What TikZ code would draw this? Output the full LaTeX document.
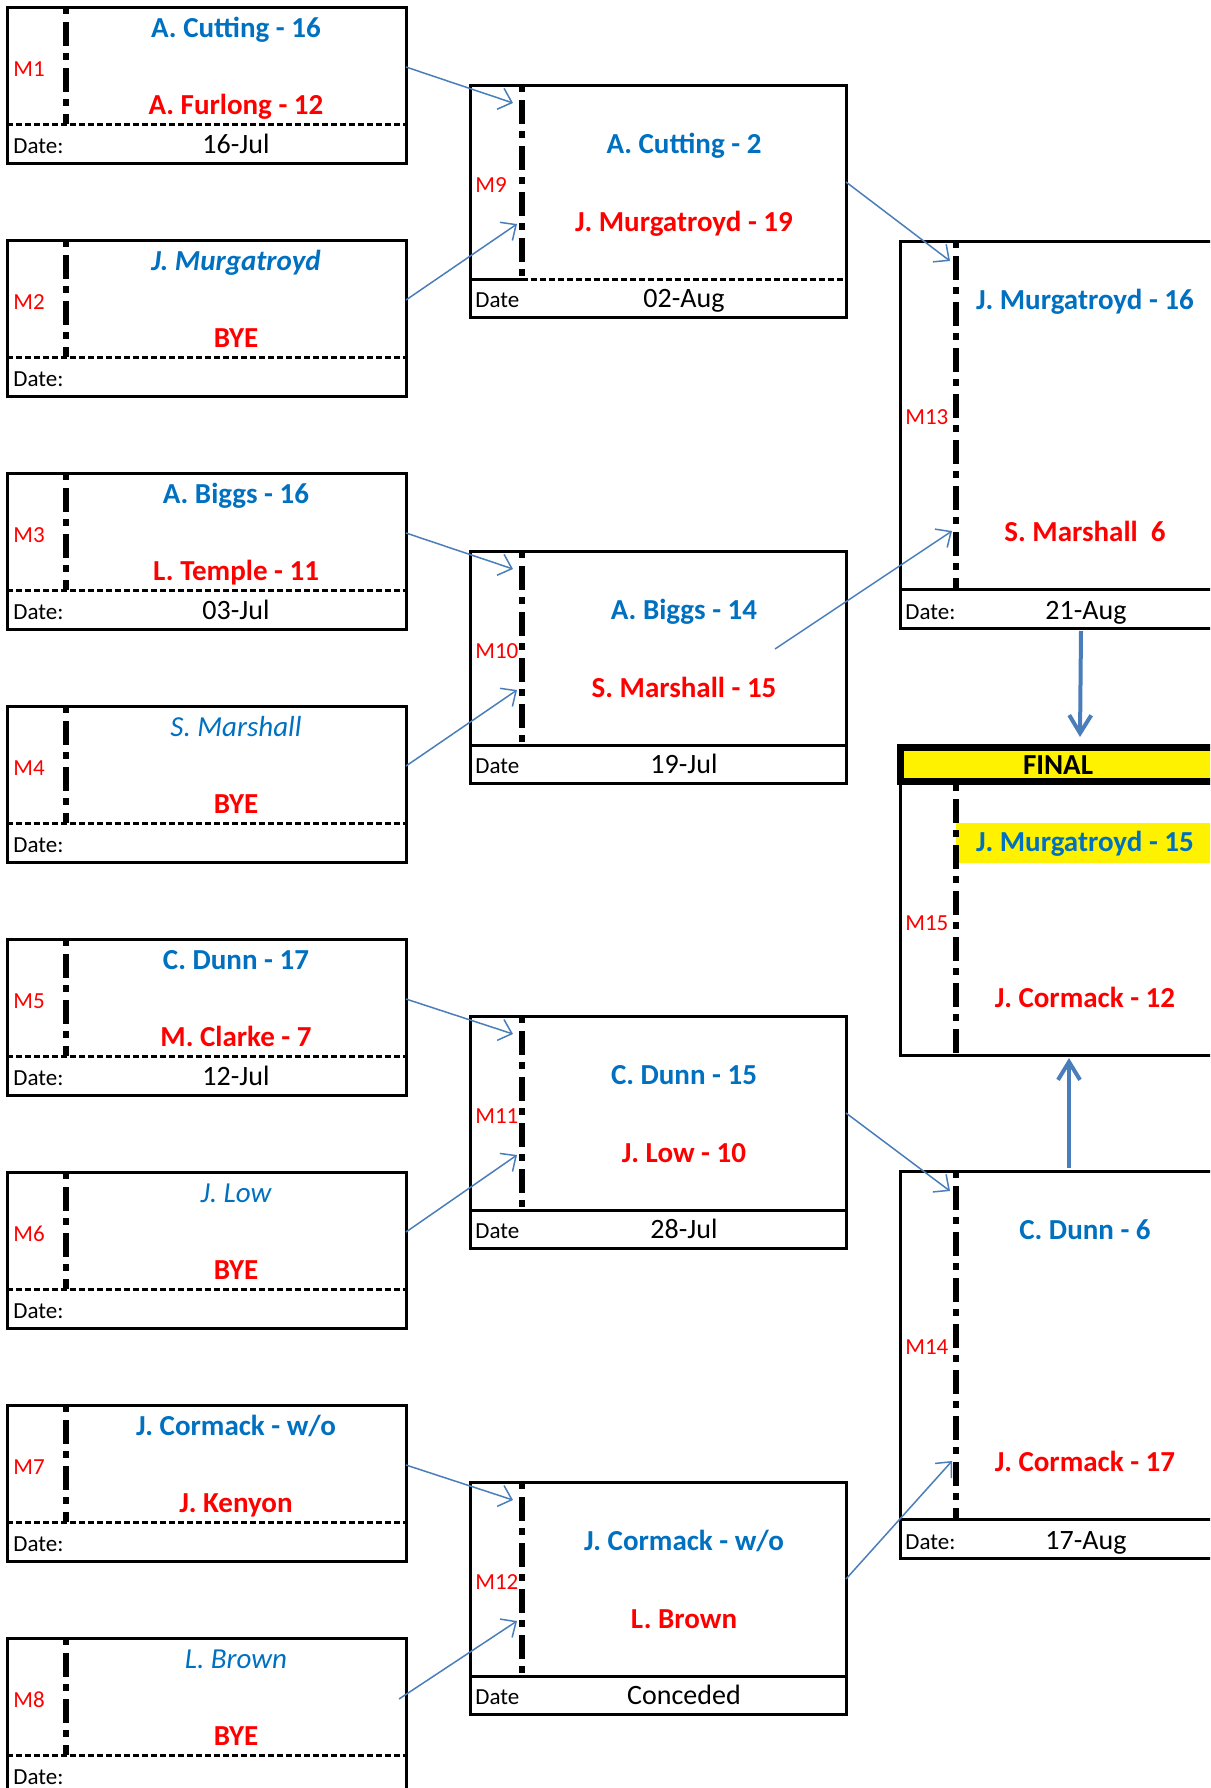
\documentclass[tikz,border=0pt]{standalone}
\usepackage{fontspec}
\setmainfont{Carlito}
\usetikzlibrary{arrows.meta}
\definecolor{nameblue}{HTML}{0070C0}
\definecolor{linkblue}{HTML}{4A7EBB}

\begin{document}
\begin{tikzpicture}[x=0.5pt,y=-0.5pt,
    box/.style={line width=1.5pt},
    sep/.style={line width=1.5pt,dash pattern=on 3pt off 1.5pt},
    mline/.style={line width=3pt,dash pattern=on 3.5pt off 4pt on 12pt off 3.5pt},
    txt/.style={inner sep=0pt,anchor=base},
    winner/.style={txt,text=nameblue,font=\fontsize{14.5}{17}\selectfont\bfseries},
    loser/.style={txt,text=red,font=\fontsize{14.5}{17}\selectfont\bfseries},
    mlab/.style={inner sep=0pt,anchor=base west,text=red,font=\fontsize{11.5}{13}\selectfont},
    datelab/.style={inner sep=0pt,anchor=base west,font=\fontsize{11.5}{13}\selectfont},
    dateval/.style={txt,font=\fontsize{14}{16}\selectfont},
    link/.style={linkblue,line width=0.75pt,-{Straight Barb[length=6pt,width=11pt]}},
    fwd/.style={linkblue,line width=2pt,-{Straight Barb[length=9pt,width=11pt]}}]
  \clip (0,0) rectangle (1210,1788);

  \foreach \i/\yy/\ta/\tb/\dt in {
      1/7/{A. Cutting - 16}/{A. Furlong - 12}/16-Jul,
      2/240/{\itshape J. Murgatroyd}/BYE/{},
      3/473/{A. Biggs - 16}/{L. Temple - 11}/03-Jul,
      4/706/{\mdseries\itshape S. Marshall}/BYE/{},
      5/939/{C. Dunn - 17}/{M. Clarke - 7}/12-Jul,
      6/1172/{\mdseries\itshape J. Low}/BYE/{},
      7/1405/{J. Cormack - w/o}/{J. Kenyon}/{},
      8/1638/{\mdseries\itshape L. Brown}/BYE/{}} {
    \draw[box] (7,\yy) rectangle (406,\yy+156);
    \draw[sep] (7,\yy+117) -- (406,\yy+117);
    \draw[mline] (66,\yy) -- (66,\yy+117);
    \node[mlab] (m\i) at (13,\yy+69) {M\i};
    \node[winner] (m\i-a) at (236,\yy+30) {\ta};
    \node[loser] (m\i-b) at (236,\yy+107) {\tb};
    \node[datelab] (m\i-d) at (13,\yy+146) {Date:};
    \node[dateval] (m\i-v) at (236,\yy+146) {\dt};
    \coordinate (m\i-out) at (406,\yy+60);
  }
  \coordinate (m8-out) at (399,1699);

  \foreach \i/\yy/\ta/\tb/\dt/\sty in {
      9/85/{A. Cutting - 2}/{J. Murgatroyd - 19}/02-Aug/sep,
      10/551/{A. Biggs - 14}/{S. Marshall - 15}/19-Jul/box,
      11/1016/{C. Dunn - 15}/{J. Low - 10}/28-Jul/box,
      12/1482/{J. Cormack - w/o}/{L. Brown}/Conceded/box} {
    \draw[box] (470,\yy) rectangle (846,\yy+232);
    \draw[box] (470,\yy+194) -- (522,\yy+194);
    \draw[\sty] (522,\yy+194) -- (846,\yy+194);
    \draw[mline] (522,\yy) -- (522,\yy+194);
    \node[mlab] (m\i) at (475,\yy+107) {M\i};
    \node[winner] (m\i-a) at (684,\yy+68) {\ta};
    \node[loser] (m\i-b) at (684,\yy+146) {\tb};
    \node[datelab] (m\i-d) at (475,\yy+222) {Date};
    \node[dateval] (m\i-v) at (684,\yy+222) {\dt};
    \coordinate (m\i-in1) at (513,\yy+18);
    \coordinate (m\i-in2) at (517,\yy+139);
    \coordinate (m\i-out) at (846,\yy+97);
  }
  \coordinate (m10-out) at (775,649);

  \foreach \i/\yy/\ta/\tb/\dt in {
      13/241/{J. Murgatroyd - 16}/{S. Marshall\ \ 6}/21-Aug,
      14/1171/{C. Dunn - 6}/{J. Cormack - 17}/17-Aug} {
    \draw[box] (900,\yy) rectangle (1216,\yy+387);
    \draw[box] (900,\yy+348) -- (1216,\yy+348);
    \draw[mline] (956,\yy) -- (956,\yy+348);
    \node[mlab] (m\i) at (905,\yy+183) {M\i};
    \node[winner] (m\i-a) at (1085,\yy+68) {\ta};
    \node[loser] (m\i-b) at (1085,\yy+300) {\tb};
    \node[datelab] (m\i-d) at (905,\yy+378) {Date:};
    \node[dateval] (m\i-v) at (1086,\yy+378) {\dt};
    \coordinate (m\i-in1) at (950,\yy+20);
    \coordinate (m\i-in2) at (952,\yy+290);
  }
  \coordinate (m13-down) at (1081,631);
  \coordinate (m14-up) at (1069,1168);

  \draw[line width=3.5pt,fill=yellow] (900,747) rectangle (1216,781);
  \draw[box] (900,784) -- (900,1055) -- (1216,1055);
  \fill[yellow] (956,823) rectangle (1216,863);
  \draw[mline] (956,784) -- (956,1055);
  \node[txt,font=\fontsize{14.5}{17}\selectfont\bfseries] (final) at (1058,774) {FINAL};
  \node[mlab] (m15) at (905,930) {M15};
  \node[winner] (m15-a) at (1085,851) {J. Murgatroyd - 15};
  \node[loser] (m15-b) at (1085,1007) {J. Cormack - 12};
  \coordinate (m15-top) at (1080,737);
  \coordinate (m15-bot) at (1069,1058);

  \draw[link] (m1-out) -- (m9-in1);
  \draw[link] (m2-out) -- (m9-in2);
  \draw[link] (m3-out) -- (m10-in1);
  \draw[link] (m4-out) -- (m10-in2);
  \draw[link] (m5-out) -- (m11-in1);
  \draw[link] (m6-out) -- (m11-in2);
  \draw[link] (m7-out) -- (m12-in1);
  \draw[link] (m8-out) -- (m12-in2);
  \draw[link] (m9-out) -- (m13-in1);
  \draw[link] (m10-out) -- (m13-in2);
  \draw[link] (m11-out) -- (m14-in1);
  \draw[link] (m12-out) -- (m14-in2);
  \draw[fwd] (m13-down) -- (m15-top);
  \draw[fwd] (m14-up) -- (m15-bot);
\end{tikzpicture}
\end{document}
